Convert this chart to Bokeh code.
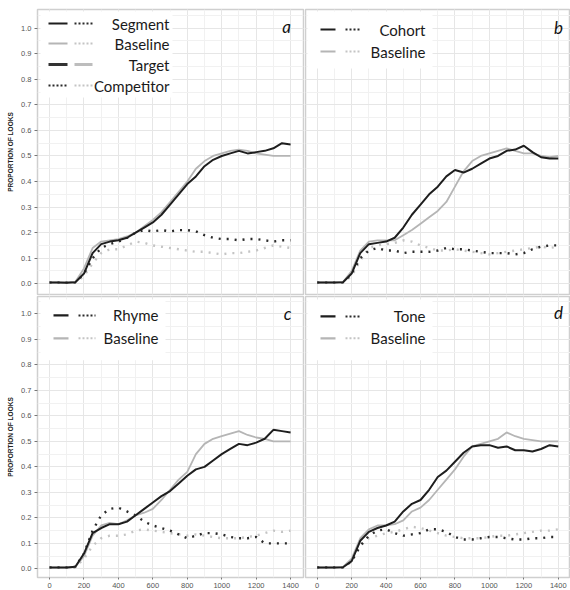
from bokeh.plotting import figure
from bokeh.layouts import gridplot
from bokeh.models import Range1d, SingleIntervalTicker, Label, BoxAnnotation, PrintfTickFormatter
from bokeh.embed import file_html
from bokeh.resources import INLINE

# ---------------- data ----------------
TIME = [0, 50, 100, 150, 200, 250, 300, 350, 400, 450, 500, 550, 600, 650, 700,
        750, 800, 850, 900, 950, 1000, 1050, 1100, 1150, 1200, 1250, 1300, 1350, 1400]

# panel a: Segment vs Baseline
a_seg_target = [0.005, 0.005, 0.004, 0.006, 0.04, 0.12, 0.155, 0.165, 0.17, 0.18, 0.20, 0.22, 0.24, 0.27, 0.31,
                0.35, 0.39, 0.42, 0.46, 0.485, 0.50, 0.51, 0.52, 0.51, 0.515, 0.52, 0.53, 0.55, 0.545]
a_base_target = [0.005, 0.005, 0.005, 0.008, 0.06, 0.14, 0.165, 0.17, 0.175, 0.185, 0.20, 0.225, 0.25, 0.28, 0.32,
                 0.36, 0.40, 0.45, 0.48, 0.50, 0.51, 0.52, 0.525, 0.52, 0.51, 0.505, 0.50, 0.50, 0.50]
a_seg_comp = [0.005, 0.005, 0.005, 0.006, 0.04, 0.10, 0.14, 0.155, 0.165, 0.18, 0.20, 0.21, 0.205, 0.21, 0.205,
              0.21, 0.21, 0.205, 0.19, 0.18, 0.175, 0.175, 0.17, 0.175, 0.175, 0.17, 0.165, 0.17, 0.17]
a_base_comp = [0.005, 0.005, 0.005, 0.006, 0.03, 0.08, 0.12, 0.135, 0.135, 0.15, 0.165, 0.16, 0.15, 0.145, 0.14,
               0.135, 0.13, 0.125, 0.125, 0.12, 0.115, 0.12, 0.12, 0.125, 0.13, 0.14, 0.15, 0.145, 0.14]

# panel b: Cohort vs Baseline
b_coh_target = [0.005, 0.005, 0.005, 0.006, 0.04, 0.12, 0.155, 0.16, 0.165, 0.18, 0.22, 0.27, 0.31, 0.35, 0.38,
                0.42, 0.445, 0.435, 0.45, 0.47, 0.49, 0.50, 0.52, 0.525, 0.54, 0.515, 0.495, 0.49, 0.49]
b_base_target = [0.005, 0.005, 0.005, 0.008, 0.05, 0.13, 0.165, 0.17, 0.17, 0.17, 0.19, 0.21, 0.235, 0.26, 0.285,
                 0.32, 0.38, 0.44, 0.48, 0.50, 0.51, 0.52, 0.53, 0.52, 0.51, 0.51, 0.50, 0.495, 0.50]
b_coh_comp = [0.005, 0.005, 0.005, 0.006, 0.04, 0.10, 0.13, 0.14, 0.13, 0.13, 0.12, 0.125, 0.125, 0.125, 0.13,
              0.14, 0.135, 0.135, 0.13, 0.125, 0.12, 0.12, 0.12, 0.115, 0.12, 0.135, 0.145, 0.15, 0.15]
b_base_comp = [0.005, 0.005, 0.005, 0.006, 0.03, 0.09, 0.14, 0.15, 0.155, 0.16, 0.17, 0.165, 0.15, 0.14, 0.13,
               0.13, 0.135, 0.13, 0.125, 0.12, 0.115, 0.12, 0.125, 0.13, 0.135, 0.14, 0.145, 0.14, 0.145]

# panel c: Rhyme vs Baseline
c_rhy_target = [0.005, 0.005, 0.005, 0.008, 0.06, 0.14, 0.16, 0.175, 0.175, 0.185, 0.21, 0.235, 0.26, 0.285, 0.305,
                0.335, 0.365, 0.39, 0.40, 0.425, 0.45, 0.47, 0.49, 0.485, 0.495, 0.51, 0.545, 0.54, 0.535]
c_base_target = [0.005, 0.005, 0.005, 0.008, 0.05, 0.13, 0.17, 0.18, 0.175, 0.19, 0.21, 0.22, 0.235, 0.27, 0.31,
                 0.35, 0.38, 0.45, 0.49, 0.51, 0.52, 0.53, 0.54, 0.525, 0.515, 0.51, 0.50, 0.50, 0.50]
c_rhy_comp = [0.005, 0.005, 0.005, 0.008, 0.06, 0.15, 0.21, 0.235, 0.24, 0.225, 0.21, 0.185, 0.17, 0.16, 0.15,
              0.135, 0.12, 0.13, 0.14, 0.14, 0.135, 0.125, 0.12, 0.12, 0.125, 0.10, 0.10, 0.10, 0.10]
c_base_comp = [0.005, 0.005, 0.005, 0.006, 0.04, 0.09, 0.12, 0.13, 0.13, 0.135, 0.15, 0.155, 0.15, 0.145, 0.14,
               0.135, 0.13, 0.135, 0.13, 0.125, 0.12, 0.12, 0.12, 0.125, 0.13, 0.14, 0.15, 0.145, 0.15]

# panel d: Tone vs Baseline
d_tone_target = [0.005, 0.005, 0.005, 0.006, 0.03, 0.11, 0.145, 0.16, 0.17, 0.185, 0.225, 0.255, 0.27, 0.31, 0.36,
                 0.385, 0.42, 0.455, 0.48, 0.485, 0.485, 0.475, 0.48, 0.465, 0.465, 0.46, 0.47, 0.485, 0.48]
d_base_target = [0.005, 0.005, 0.005, 0.008, 0.04, 0.12, 0.155, 0.17, 0.17, 0.175, 0.19, 0.225, 0.24, 0.27, 0.31,
                 0.35, 0.39, 0.44, 0.48, 0.49, 0.50, 0.51, 0.535, 0.52, 0.51, 0.505, 0.50, 0.50, 0.50]
d_tone_comp = [0.005, 0.005, 0.005, 0.006, 0.03, 0.09, 0.13, 0.15, 0.155, 0.14, 0.13, 0.135, 0.14, 0.155, 0.155,
               0.145, 0.125, 0.115, 0.115, 0.12, 0.125, 0.125, 0.12, 0.115, 0.115, 0.12, 0.12, 0.125, 0.125]
d_base_comp = [0.005, 0.005, 0.005, 0.006, 0.03, 0.09, 0.12, 0.13, 0.14, 0.145, 0.155, 0.165, 0.16, 0.15, 0.14,
               0.13, 0.125, 0.12, 0.12, 0.12, 0.125, 0.13, 0.13, 0.135, 0.14, 0.145, 0.15, 0.15, 0.155]

Y_LABEL = "PROPORTION OF LOOKS"

# ---------------- styling / geometry ----------------
BLACK = "#1e1e1e"
GREY = "#b5b5b5"
DOT_BLACK = "#2a2a2a"
DOT_GREY = "#c4c4c4"
LEG_FONT = "Lato"

XL = (-70, 1475)
XR = (-68, 1471)
YT = (-0.042, 1.073)
YB = (-0.034, 1.068)

# frame geometry in page pixels: (fx0, fw, fy0, fh, border_left, border_right, border_top, border_bottom)
GEOM = {
    "a": (37, 266, 9, 285, 37, 1, 9, 1),
    "b": (305, 265, 9, 285, 1, 0, 9, 1),
    "c": (37, 266, 296, 282, 37, 1, 1, 12),
    "d": (305, 265, 296, 282, 1, 0, 1, 12),
}
XRANGE = {"a": XL, "b": XR, "c": XL, "d": XR}
YRANGE = {"a": YT, "b": YT, "c": YB, "d": YB}


def make_fig(key, left, bottom):
    fx0, fw, fy0, fh, bl, br, bt, bb = GEOM[key]
    p = figure(width=fw + bl + br, height=fh + bt + bb, output_backend="svg", toolbar_location=None,
               x_range=Range1d(*XRANGE[key]), y_range=Range1d(*YRANGE[key]),
               min_border_left=bl, min_border_right=br, min_border_top=bt, min_border_bottom=bb)
    p.background_fill_color = "white"
    p.border_fill_color = "white"
    p.outline_line_color = "#cfcfcf"
    p.outline_line_width = 1.5

    p.xaxis.ticker = SingleIntervalTicker(interval=200, num_minor_ticks=2)
    p.yaxis.ticker = SingleIntervalTicker(interval=0.1, num_minor_ticks=2)
    p.xgrid.grid_line_color = "#e6e6e6"
    p.ygrid.grid_line_color = "#e6e6e6"
    p.xgrid.minor_grid_line_color = "#f1f1f1"
    p.ygrid.minor_grid_line_color = "#f1f1f1"

    for ax in (p.xaxis[0], p.yaxis[0]):
        ax.axis_line_color = None
        ax.major_tick_line_color = "#777777"
        ax.major_tick_out = 3
        ax.major_tick_in = 0
        ax.minor_tick_line_color = None
        ax.major_label_text_font = "Liberation Sans"
        ax.major_label_text_font_size = "7.5px"
        ax.major_label_text_color = "#555555"
        ax.major_label_standoff = 2
    p.yaxis[0].formatter = PrintfTickFormatter(format="%.1f")

    if left:
        p.yaxis.axis_label = Y_LABEL
        p.yaxis.axis_label_text_font = "Liberation Sans"
        p.yaxis.axis_label_text_font_size = "6.5px"
        p.yaxis.axis_label_text_font_style = "bold"
        p.yaxis.axis_label_text_color = "#222222"
        p.yaxis.axis_label_standoff = 4
    else:
        p.yaxis.visible = False
    if not bottom:
        p.xaxis.visible = False
    else:
        p.xaxis.major_tick_out = 2
        p.xaxis.major_label_standoff = 1
    return p


def to_data(key, px, py):
    fx0, fw, fy0, fh = GEOM[key][:4]
    xr, yr = XRANGE[key], YRANGE[key]
    x = xr[0] + (px - fx0) / fw * (xr[1] - xr[0])
    y = yr[1] - (py - fy0) / fh * (yr[1] - yr[0])
    return x, y


def draw_series(p, base_t, targ_t, base_c, targ_c):
    p.line(TIME, base_c, line_color=DOT_GREY, line_width=2.4, line_dash="2 6")
    p.line(TIME, targ_c, line_color=DOT_BLACK, line_width=2.4, line_dash="2 6")
    p.line(TIME, base_t, line_color=GREY, line_width=1.8)
    p.line(TIME, targ_t, line_color=BLACK, line_width=2.0)


def legend_box(p, key, x0, x1, y0, y1):
    l, t = to_data(key, x0, y0)
    r, b = to_data(key, x1, y1)
    p.add_layout(BoxAnnotation(left=l, right=r, top=t, bottom=b, fill_color="white",
                               fill_alpha=1.0, line_color=None, level="underlay"))


def key_line(p, key, x0, x1, py, color, width, dash="solid"):
    xa, y = to_data(key, x0, py)
    xb, _ = to_data(key, x1, py)
    p.line([xa, xb], [y, y], line_color=color, line_width=width, line_dash=dash)


def legend_text(p, key, px, py, text):
    x, y = to_data(key, px, py)
    p.add_layout(Label(x=x, y=y, text=text, text_align="right", text_baseline="middle",
                       text_font=LEG_FONT, text_font_size="15px", text_color="#1a1a1a"))


def panel_letter(p, key, px, py, text):
    x, y = to_data(key, px, py)
    p.add_layout(Label(x=x, y=y, text=text, text_align="center", text_baseline="middle",
                       text_font=LEG_FONT, text_font_size="17px", text_font_style="italic",
                       text_color="#111111"))


def two_row_legend(p, key, box, rows, solid_x, dot_x, text_x, labels):
    legend_box(p, key, *box)
    key_line(p, key, solid_x[0], solid_x[1], rows[0], BLACK, 2.2)
    key_line(p, key, dot_x[0], dot_x[1], rows[0], DOT_BLACK, 2.0, "2 2")
    key_line(p, key, solid_x[0], solid_x[1], rows[1], GREY, 2.2)
    key_line(p, key, dot_x[0], dot_x[1], rows[1], DOT_GREY, 2.0, "2 2")
    for ty, txt in zip(rows, labels):
        legend_text(p, key, text_x, ty, txt)


# ---------------- panel a ----------------
pa = make_fig("a", True, False)
draw_series(pa, a_base_target, a_seg_target, a_base_comp, a_seg_comp)
legend_box(pa, "a", 40, 172, 11, 97)
rows_a = [23, 43, 64, 85]
key_line(pa, "a", 48, 67, rows_a[0], BLACK, 2.2)
key_line(pa, "a", 74, 92, rows_a[0], DOT_BLACK, 2.2, "2 2")
key_line(pa, "a", 48, 67, rows_a[1], GREY, 2.2)
key_line(pa, "a", 74, 92, rows_a[1], DOT_GREY, 2.2, "2 2")
key_line(pa, "a", 48, 67, rows_a[2], "#333333", 3.0)
key_line(pa, "a", 74, 92, rows_a[2], "#bdbdbd", 3.0)
key_line(pa, "a", 48, 67, rows_a[3], DOT_BLACK, 2.2, "2 2")
key_line(pa, "a", 74, 92, rows_a[3], DOT_GREY, 2.2, "2 2")
for ty, txt in zip(rows_a, ["Segment", "Baseline", "Target", "Competitor"]):
    legend_text(pa, "a", 169, ty, txt)
panel_letter(pa, "a", 286, 26, "a")

# ---------------- panel b ----------------
pb = make_fig("b", False, False)
draw_series(pb, b_base_target, b_coh_target, b_base_comp, b_coh_comp)
two_row_legend(pb, "b", (307, 432, 11, 68), [29, 51], (320, 335), (345, 360), 425, ["Cohort", "Baseline"])
panel_letter(pb, "b", 558, 27, "b")

# ---------------- panel c ----------------
pc = make_fig("c", True, True)
draw_series(pc, c_base_target, c_rhy_target, c_base_comp, c_rhy_comp)
two_row_legend(pc, "c", (40, 165, 299, 360), [315, 338], (53, 68), (78, 95), 158, ["Rhyme", "Baseline"])
panel_letter(pc, "c", 287, 313, "c")

# ---------------- panel d ----------------
pd_ = make_fig("d", False, True)
draw_series(pd_, d_base_target, d_tone_target, d_base_comp, d_tone_comp)
two_row_legend(pd_, "d", (307, 432, 299, 360), [316, 338], (320, 335), (345, 360), 425, ["Tone", "Baseline"])
panel_letter(pd_, "d", 558, 312, "d")

grid = gridplot([[pa, pb], [pc, pd_]], toolbar_location=None)

open("out.html", "w").write(file_html(grid, INLINE))
